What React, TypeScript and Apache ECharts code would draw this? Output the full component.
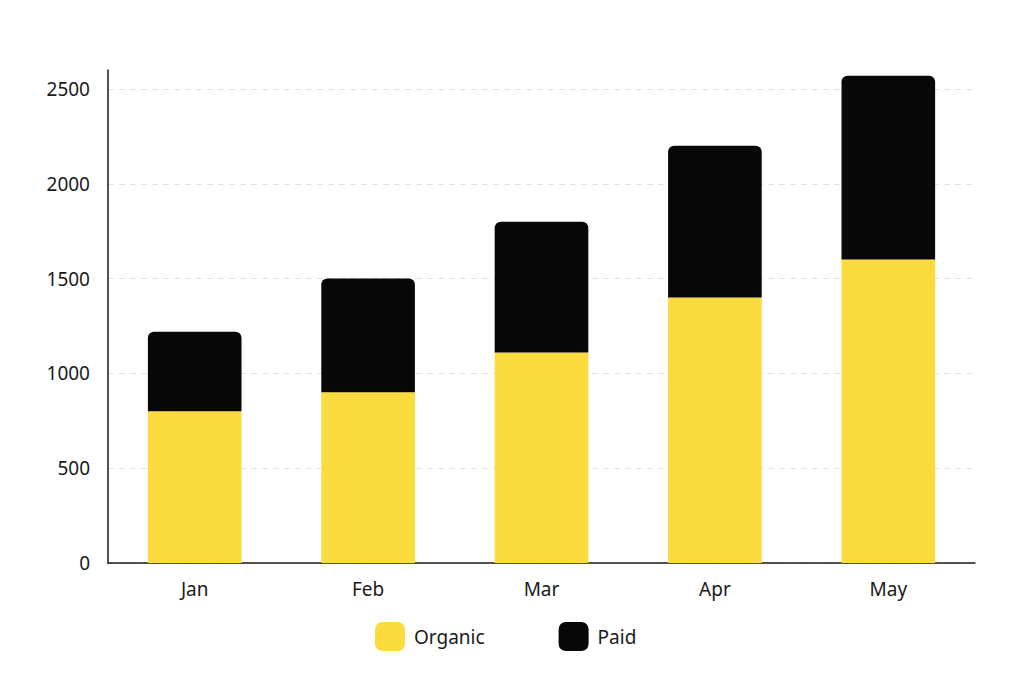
import React, { useEffect, useRef } from "react";
import * as echarts from "echarts";

const categories = ["Jan", "Feb", "Mar", "Apr", "May"];
const organic = [800, 900, 1110, 1400, 1600];
const paid = [420, 600, 690, 800, 970];
const seriesNames = ["Organic", "Paid"];

export default function App() {
  const ref = useRef<HTMLDivElement>(null);
  useEffect(() => {
    document.body.style.margin = "0";
    const chart = echarts.init(ref.current!, null, { renderer: "svg" });
    const font = "'Noto Sans', Lato, sans-serif";
    chart.setOption({
      animation: false,
      backgroundColor: "#ffffff",
      grid: { left: 108, right: 49, top: 70, bottom: 120 },
      legend: {
        data: seriesNames,
        top: 617,
        left: 370,
        itemWidth: 30,
        itemHeight: 29,
        itemGap: 74,
        icon: "roundRect",
        textStyle: { fontFamily: font, fontSize: 19, color: "#1a1a1a", padding: [0, 0, 0, 4] },
      },
      xAxis: {
        type: "category",
        data: categories,
        axisLine: { lineStyle: { color: "#1a1a1a", width: 1.5 } },
        axisTick: { show: false },
        axisLabel: { fontFamily: font, fontSize: 19, color: "#1a1a1a", margin: 16 },
      },
      yAxis: {
        type: "value",
        min: 0,
        max: 2600,
        interval: 500,
        axisLine: { show: true, lineStyle: { color: "#1a1a1a", width: 1.5 } },
        axisTick: { show: false },
        axisLabel: {
          fontFamily: font,
          fontSize: 19,
          color: "#1a1a1a",
          margin: 18,
          showMaxLabel: false,
          formatter: (v: number) => String(v),
        },
        splitLine: { showMaxLine: false, lineStyle: { color: "#e2e2e2", type: [6, 5], width: 1 } },
      },
      series: [
        {
          name: seriesNames[0],
          type: "bar",
          stack: "total",
          data: organic,
          barWidth: "54%",
          itemStyle: { color: "#FCDB3E" },
        },
        {
          name: seriesNames[1],
          type: "bar",
          stack: "total",
          data: paid,
          barWidth: "54%",
          itemStyle: { color: "#080808", borderRadius: [6, 6, 0, 0] },
        },
      ],
    });
    return () => chart.dispose();
  }, []);
  return <div ref={ref} style={{ width: 1024, height: 683 }} />;
}
